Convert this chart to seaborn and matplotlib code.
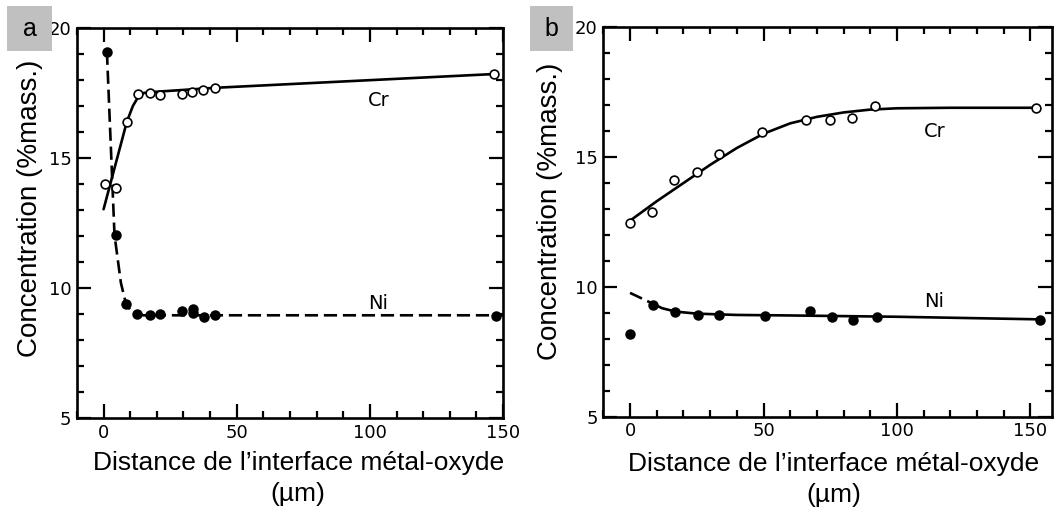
import matplotlib
matplotlib.use("Agg")
import matplotlib.pyplot as plt
import seaborn as sns
import pandas as pd
from matplotlib.ticker import MultipleLocator
from matplotlib.patches import Rectangle

# ---- panel a data ----
a_cr_x = [0.5, 4.8, 8.75, 13.0, 17.3, 21.3, 29.4, 33.3, 37.3, 41.8, 146.7]
a_cr_y = [14.0, 13.85, 16.4, 17.45, 17.5, 17.42, 17.46, 17.55, 17.6, 17.7, 18.23]
a_cr_fit_x = [0.0, 8.75, 11.0, 13.0, 15.0, 20.0, 41.8, 146.7]
a_cr_fit_y = [13.03, 16.4, 17.0, 17.35, 17.5, 17.55, 17.7, 18.23]

a_ni_x = [1.25, 4.6, 8.4, 12.4, 17.3, 21.2, 29.4, 33.5, 33.5, 37.7, 41.7, 147.2]
a_ni_y = [19.09, 12.03, 9.37, 9.0, 8.98, 9.0, 9.1, 9.2, 9.02, 8.87, 8.96, 8.93]
a_ni_fit_x = [1.25, 4.1, 6.5, 8.5, 11.0, 15.0, 40.0, 150.0]
a_ni_fit_y = [19.09, 12.04, 10.2, 9.35, 9.05, 8.95, 8.95, 8.95]

# ---- panel b data ----
b_cr_x = [0.0, 8.3, 16.4, 25.1, 33.2, 49.4, 66.0, 74.8, 83.3, 91.7, 152.2]
b_cr_y = [12.45, 12.88, 14.12, 14.44, 15.12, 15.97, 16.41, 16.42, 16.5, 16.97, 16.88]
b_cr_fit_x = [0, 10, 20, 30, 40, 50, 60, 70, 80, 90, 100, 120, 152.2]
b_cr_fit_y = [12.55, 13.3, 14.0, 14.7, 15.35, 15.9, 16.3, 16.55, 16.72, 16.83, 16.88, 16.9, 16.9]

b_ni_x = [0.0, 8.6, 16.7, 25.4, 33.5, 50.6, 67.3, 75.7, 83.5, 92.5, 153.5]
b_ni_y = [8.17, 9.32, 9.03, 8.92, 8.9, 8.86, 9.09, 8.85, 8.72, 8.83, 8.72]
b_ni_dash_x = [0.0, 8.0]
b_ni_dash_y = [9.77, 9.38]
b_ni_fit_x = [8.0, 12.0, 17.0, 25.0, 40.0, 60.0, 100.0, 153.5]
b_ni_fit_y = [9.38, 9.18, 9.05, 8.97, 8.92, 8.9, 8.85, 8.75]

sns.set_style("ticks")
plt.rcParams['font.family'] = ['Liberation Sans', 'DejaVu Sans']
plt.rcParams['text.color'] = 'black'
plt.rcParams['axes.labelcolor'] = 'black'

fig = plt.figure(figsize=(10.57, 5.13), dpi=100)
ax_a = fig.add_axes([0.0728, 0.1852, 0.4031, 0.7602])
ax_b = fig.add_axes([0.5708, 0.1877, 0.4243, 0.7591])

tick_font = ['DejaVu Sans']


def line(ax, x, y, dashed=False):
    df = pd.DataFrame({'x': x, 'y': y})
    sns.lineplot(data=df, x='x', y='y', ax=ax, color='black', lw=1.9,
                 linestyle=(0, (5, 2.2)) if dashed else '-', sort=False)


def points(ax, x, y, filled):
    df = pd.DataFrame({'x': x, 'y': y})
    sns.scatterplot(data=df, x='x', y='y', ax=ax, s=40, zorder=5,
                    color='black' if filled else 'white',
                    edgecolor='black', linewidth=1.2)


def style(ax, xmax, ylab_xy, xlab_xy):
    ax.set_xlim(-10, xmax)
    ax.set_ylim(5, 20)
    ax.xaxis.set_major_locator(MultipleLocator(50))
    ax.xaxis.set_minor_locator(MultipleLocator(10))
    ax.yaxis.set_major_locator(MultipleLocator(5))
    ax.yaxis.set_minor_locator(MultipleLocator(1))
    ax.tick_params(which='both', direction='in', top=True, right=True,
                   width=1.6, colors='black', labelsize=13, pad=4)
    ax.tick_params(which='major', length=10)
    ax.tick_params(which='minor', length=5)
    for t in ax.get_xticklabels() + ax.get_yticklabels():
        t.set_family(tick_font)
    for s in ax.spines.values():
        s.set_linewidth(1.9)
        s.set_color('black')
    ax.set_ylabel('Concentration (%mass.)', fontsize=20)
    ax.yaxis.set_label_coords(*ylab_xy)
    ax.set_xlabel('Distance de l\u2019interface métal-oxyde\n(µm)',
                  fontsize=19, linespacing=1.35)
    ax.xaxis.set_label_coords(*xlab_xy)


def panel_tag(x0, w, label):
    W, H = 1057, 513
    fig.patches.append(Rectangle((x0 / W, 1 - 51 / H), w / W, 45 / H,
                                 transform=fig.transFigure, fc='#c0c0c0', ec='none'))
    fig.text((x0 + w / 2) / W, 1 - 28.5 / H, label, fontsize=18,
             ha='center', va='center', color='black')


# panel a
line(ax_a, a_cr_fit_x, a_cr_fit_y)
line(ax_a, a_ni_fit_x, a_ni_fit_y, dashed=True)
points(ax_a, a_cr_x, a_cr_y, filled=False)
points(ax_a, a_ni_x, a_ni_y, filled=True)
style(ax_a, 150, (-0.08, 0.538), (0.519, -0.085))
ax_a.text(103.5, 17.2, 'Cr', fontsize=14, family=tick_font, ha='center', va='center')
ax_a.text(103, 9.4, 'Ni', fontsize=14, family=tick_font, ha='center', va='center')

# panel b
line(ax_b, b_cr_fit_x, b_cr_fit_y)
line(ax_b, b_ni_dash_x, b_ni_dash_y, dashed=True)
line(ax_b, b_ni_fit_x, b_ni_fit_y)
points(ax_b, b_cr_x, b_cr_y, filled=False)
points(ax_b, b_ni_x, b_ni_y, filled=True)
style(ax_b, 158, (-0.09, 0.528), (0.513, -0.091))
ax_b.text(114, 16.0, 'Cr', fontsize=14, family=tick_font, ha='center', va='center')
ax_b.text(114, 9.45, 'Ni', fontsize=14, family=tick_font, ha='center', va='center')

panel_tag(7, 45, 'a')
panel_tag(530, 43, 'b')

fig.savefig('out.png', dpi=100)
